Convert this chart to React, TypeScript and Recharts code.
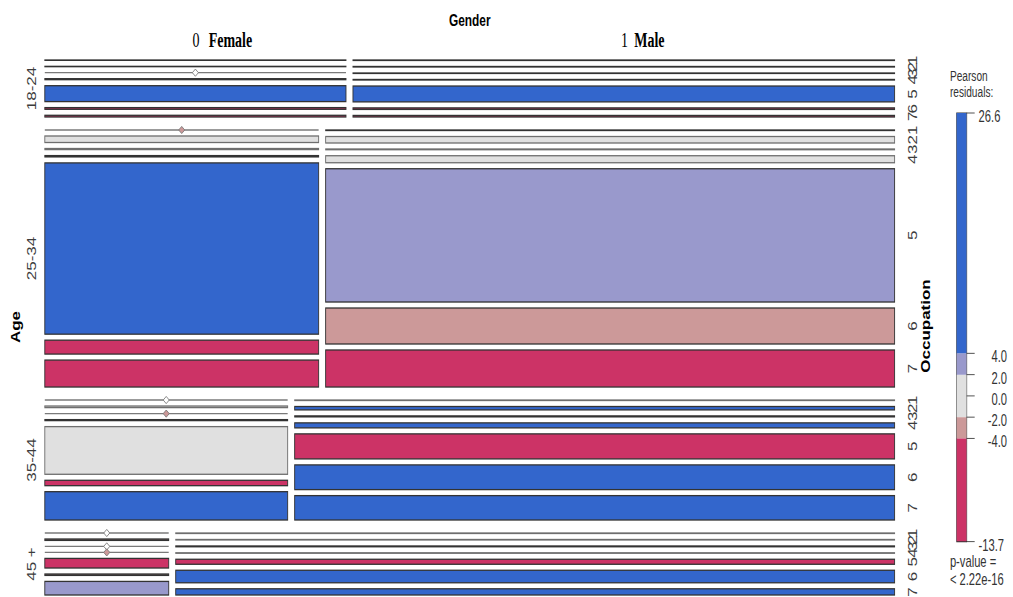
import React from "react";
import { ComposedChart, BarChart, Bar, XAxis, YAxis, ReferenceArea, Scatter } from "recharts";

const ages = ["18-24", "25-34", "35-44", "45 +"];
const genders = ["0  Female", "1 Male"];
const occupations = ["1", "2", "3", "4", "5", "6", "7"];

// head counts per occupation (1..7) in each age x gender cell
const female18 = [4, 4, 0, 12, 188, 20, 20];
const male18 = [10, 11, 10, 12, 337, 33, 33];
const female25 = [0, 30, 5, 6, 788, 64, 124];
const male25 = [5, 62, 7, 67, 1274, 344, 354];
const female35 = [0, 8, 0, 5, 239, 27, 142];
const male35 = [6, 42, 12, 62, 310, 306, 302];
const female45 = [0, 6, 0, 0, 41, 6, 58];
const male45 = [12, 12, 20, 12, 124, 310, 154];

// Pearson residuals of the independence model, same layout
const resFemale18 = [-2.4, -2.1, -1.6, -2.6, 26.6, -5.2, -6.0];
const resMale18 = [-2.3, -2.2, -2.5, -2.4, 22.4, -7.3, -7.1];
const resFemale25 = [-2.3, -0.6, -1.5, -2.9, 18.9, -10.8, -9.6];
const resMale25 = [-2.5, 0.9, -1.2, 1.4, 3.1, -3.2, -13.7];
const resFemale35 = [-1.4, -1.1, -2.2, -2.8, 1.2, -8.3, 5.6];
const resMale35 = [-1.0, 4.8, -2.5, 6.1, -12.4, 9.7, 8.9];
const resFemale45 = [-1.2, -2.4, -1.5, -2.1, -6.4, -3.1, 2.7];
const resMale45 = [-0.5, -1.9, -2.6, 0.2, -9.5, 14.2, 4.5];

// legend scale
const legendTicks = [26.6, 4, 2, 0, -2, -4, -13.7];
const legendUpper = [0, 2, 4, 26.6];
const legendLower = [0, -2, -4, -13.7];

const table = [
  [female18, male18],
  [female25, male25],
  [female35, male35],
  [female45, male45],
];
const resid = [
  [resFemale18, resMale18],
  [resFemale25, resMale25],
  [resFemale35, resMale35],
  [resFemale45, resMale45],
];

// the plot is drawn wide and squeezed horizontally
const SQUEEZE = 0.7;
const CHART_W = 1447;
const CHART_H = 597;
const PLOT_W = 1214;
const PLOT_H = 535;
const GAP_GENDER = 10;
const GAP_AGE = 13;
const GAP_OCC = 6;

const SANS = "'Liberation Sans', Arial, sans-serif";
const SERIF = "'Liberation Serif', 'Times New Roman', serif";

const BLUE = "#3366CC";
const LAVENDER = "#9999CC";
const GRAY = "#E0E0E0";
const PINK = "#CC9999";
const RED = "#CC3366";

function shade(r: number): string {
  if (r > 4) return BLUE;
  if (r > 2) return LAVENDER;
  if (r >= -2) return GRAY;
  if (r >= -4) return PINK;
  return RED;
}

const sum = (a: number[]) => a.reduce((s, v) => s + v, 0);
const grand = sum(table.map((row) => sum(row.map(sum))));

type Cell = {
  age: number;
  gender: number;
  occ: number;
  n: number;
  r: number;
  x1: number;
  x2: number;
  y1: number;
  y2: number;
};

const cells: Cell[] = [];
const rowCenters: number[] = [];
const genderCenters: number[] = [];
let rowTop = 0;
table.forEach((row, a) => {
  const rowTotal = sum(row.map(sum));
  const rowH = ((PLOT_H - GAP_AGE * (table.length - 1)) * rowTotal) / grand;
  rowCenters.push(rowTop + rowH / 2);
  let left = 0;
  row.forEach((counts, g) => {
    const cellTotal = sum(counts);
    const w = ((PLOT_W - GAP_GENDER * (row.length - 1)) * cellTotal) / rowTotal;
    if (a === 0) genderCenters.push(left + w / 2);
    const inner = rowH - GAP_OCC * (counts.length - 1);
    let y = rowTop;
    counts.forEach((n, o) => {
      const h = (inner * n) / cellTotal;
      cells.push({ age: a, gender: g, occ: o, n, r: resid[a][g][o], x1: left, x2: left + w, y1: y, y2: y + h });
      y += h + GAP_OCC;
    });
    left += w + GAP_GENDER;
  });
  rowTop += rowH + GAP_AGE;
});

const maleCells = cells.filter((c) => c.gender === genders.length - 1);
const occTicks = maleCells.map((c) => (c.y1 + c.y2) / 2);
const occLabels = maleCells.map((c) => occupations[c.occ]);
const emptyCells = cells
  .filter((c) => c.n === 0)
  .map((c) => ({ x: (c.x1 + c.x2) / 2, y: c.y1, r: c.r }));

// colour bands of the legend, stacked up and down from zero
const legendRow: Record<string, number | string> = { name: "residuals" };
const legendBands: { key: string; color: string }[] = [];
[legendUpper, legendLower].forEach((edges, side) => {
  edges.slice(1).forEach((edge, i) => {
    const key = `band${side}${i}`;
    legendRow[key] = edge - edges[i];
    legendBands.push({ key, color: shade((edge + edges[i]) / 2) });
  });
});
const legendData = [legendRow];

function Tile(props: any) {
  const { x, y, width, height, cell } = props;
  if (cell.n === 0) {
    return <line x1={x} x2={x + width} y1={y} y2={y} stroke="#7a7a7a" strokeWidth={1.3} />;
  }
  const fill = shade(cell.r);
  return (
    <rect
      x={x}
      y={y}
      width={width}
      height={height}
      fill={fill}
      stroke={fill === GRAY ? "#6e6e6e" : "#333"}
      strokeWidth={1.3}
    />
  );
}

function EmptyMark(props: any) {
  const { cx, cy, payload } = props;
  const fill = shade(payload.r) === GRAY ? "#ffffff" : shade(payload.r);
  const pts = `${cx},${cy - 3.6} ${cx + 4.3},${cy} ${cx},${cy + 3.6} ${cx - 4.3},${cy}`;
  return <polygon points={pts} fill={fill} stroke="#777" strokeWidth={1} />;
}

function GenderTick(props: any) {
  const { x, index } = props;
  const [code, name] = genders[index].split(/\s+/);
  return (
    <text x={x - 4} y={47} fontFamily={SERIF} fontSize={20} fill="#000">
      <tspan>{code}</tspan>
      <tspan dx={index === 0 ? 13 : 9} fontWeight="bold">
        {name}
      </tspan>
    </text>
  );
}

function AgeTick(props: any) {
  const { y, index } = props;
  return (
    <text
      x={52}
      y={y}
      transform={`rotate(-90 52 ${y})`}
      textAnchor="middle"
      fontFamily={SANS}
      fontSize={17}
      fill="#3c3c3c"
    >
      {ages[index]}
    </text>
  );
}

function OccTick(props: any) {
  const { y, index } = props;
  const bx = 1309.5;
  return (
    <text
      x={bx}
      y={y}
      transform={`rotate(-90 ${bx} ${y})`}
      textAnchor="middle"
      fontFamily={SANS}
      fontSize={17}
      fill="#3c3c3c"
    >
      {occLabels[index]}
    </text>
  );
}

const GenderTitle = () => (
  <text x={64 + PLOT_W / 2} y={26.5} textAnchor="middle" fontFamily={SANS} fontSize={17} fontWeight="bold">
    Gender
  </text>
);

const AgeTitle = () => (
  <text x={29} y={327} transform="rotate(-90 29 327)" textAnchor="middle" fontFamily={SANS} fontSize={17} fontWeight="bold">
    Age
  </text>
);

const OccTitle = () => (
  <text x={1328} y={326} transform="rotate(-90 1328 326)" textAnchor="middle" fontFamily={SANS} fontSize={17} fontWeight="bold">
    Occupation
  </text>
);

function LegendTick(props: any) {
  const { y, payload } = props;
  const v = payload.value as number;
  const isEnd = v === legendTicks[0] || v === legendTicks[legendTicks.length - 1];
  return (
    <text
      x={isEnd ? 58 : 98.6}
      y={y + 9}
      textAnchor={isEnd ? "start" : "end"}
      fontFamily={SANS}
      fontSize={16}
      fill="#333"
    >
      {v.toFixed(1)}
    </text>
  );
}

function ResidualLegend() {
  return (
    <div style={{ position: "absolute", left: 1340, top: 103 }}>
      <BarChart
        width={107}
        height={450}
        data={legendData}
        stackOffset="sign"
        barCategoryGap={0}
        margin={{ top: 10, right: 0, bottom: 11.4, left: 26.7 }}
      >
        <XAxis type="category" dataKey="name" hide />
        <YAxis
          type="number"
          orientation="right"
          domain={[legendLower[legendLower.length - 1], legendUpper[legendUpper.length - 1]]}
          allowDataOverflow
          ticks={legendTicks}
          interval={0}
          width={66}
          tickSize={11.4}
          axisLine={false}
          tickLine={{ stroke: "#333", strokeWidth: 1 }}
          tick={LegendTick}
        />
        {legendBands.map((b) => (
          <Bar key={b.key} dataKey={b.key} stackId="r" fill={b.color} isAnimationActive={false} />
        ))}
        <ReferenceArea
          x1="residuals"
          x2="residuals"
          y1={legendLower[legendLower.length - 1]}
          y2={legendUpper[legendUpper.length - 1]}
          ifOverflow="visible"
          fill="none"
          fillOpacity={0}
          stroke="#333"
          strokeWidth={1.2}
        />
      </BarChart>
    </div>
  );
}

function LegendCaptions() {
  const t = { fontFamily: SANS, fontSize: 14.5, fill: "#333" };
  const p = { fontFamily: SANS, fontSize: 16, fill: "#333" };
  return (
    <svg width={107} height={CHART_H} style={{ position: "absolute", left: 1340, top: 0 }}>
      <text x={17} y={81} {...t}>Pearson</text>
      <text x={17} y={97} {...t}>residuals:</text>
      <text x={17} y={567} {...p}>p-value =</text>
      <text x={17} y={585} {...p}>{"< 2.22e-16"}</text>
    </svg>
  );
}

export default function App() {
  return (
    <div style={{ position: "absolute", left: 0, top: 0, width: 1013, height: 597, overflow: "hidden", background: "#fff" }}>
      <div
        style={{
          position: "relative",
          width: CHART_W,
          height: CHART_H,
          transform: `scaleX(${SQUEEZE})`,
          transformOrigin: "0 0",
        }}
      >
        <ComposedChart width={CHART_W} height={CHART_H} margin={{ top: 0, right: 109, bottom: 2, left: 0 }}>
          <XAxis
            xAxisId="g"
            orientation="top"
            type="number"
            dataKey="x"
            domain={[0, PLOT_W]}
            allowDataOverflow
            ticks={genderCenters}
            interval={0}
            height={60}
            axisLine={false}
            tickLine={false}
            tick={GenderTick}
            label={GenderTitle}
          />
          <YAxis
            yAxisId="age"
            type="number"
            dataKey="y"
            reversed
            domain={[0, PLOT_H]}
            allowDataOverflow
            ticks={rowCenters}
            interval={0}
            width={64}
            axisLine={false}
            tickLine={false}
            tick={AgeTick}
            label={AgeTitle}
          />
          <YAxis
            yAxisId="occ"
            orientation="right"
            type="number"
            dataKey="y"
            reversed
            domain={[0, PLOT_H]}
            allowDataOverflow
            ticks={occTicks}
            interval={0}
            width={60}
            axisLine={false}
            tickLine={false}
            tick={OccTick}
            label={OccTitle}
          />
          {cells.map((c, i) => (
            <ReferenceArea
              key={i}
              xAxisId="g"
              yAxisId="age"
              x1={c.x1}
              x2={c.x2}
              y1={c.y1}
              y2={c.y2}
              ifOverflow="visible"
              shape={(p: any) => <Tile {...p} cell={c} />}
            />
          ))}
          <Scatter
            xAxisId="g"
            yAxisId="age"
            data={emptyCells}
            isAnimationActive={false}
            shape={EmptyMark}
          />
        </ComposedChart>
        <ResidualLegend />
        <LegendCaptions />
      </div>
    </div>
  );
}
